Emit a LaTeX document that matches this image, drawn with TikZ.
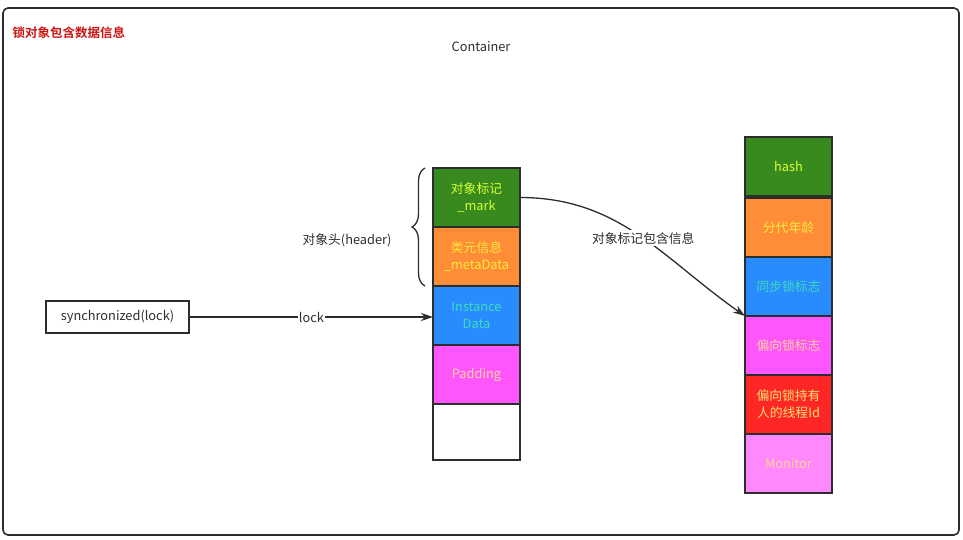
\documentclass[tikz,border=0pt]{standalone}
\usepackage{fontspec}
\setmainfont{Noto Sans CJK SC}[BoldFont={Noto Sans CJK SC Bold}]
\usepackage{tikz}
\usetikzlibrary{arrows.meta,shapes,positioning,decorations.pathreplacing}
\usepackage{xcolor}
\definecolor{framegray}{RGB}{45,45,45}
\definecolor{titlered}{RGB}{204,20,20}
\definecolor{cgreen}{RGB}{56,137,30}
\definecolor{corange}{RGB}{255,140,55}
\definecolor{cblue}{RGB}{40,140,255}
\definecolor{cmagenta}{RGB}{255,85,255}
\definecolor{cred}{RGB}{255,38,38}
\definecolor{cpink}{RGB}{255,136,255}
\definecolor{tlime}{RGB}{215,255,50}
\definecolor{tyellow}{RGB}{255,235,60}
\definecolor{tteal}{RGB}{60,220,190}
\definecolor{tpeach}{RGB}{255,212,150}
\definecolor{tgold}{RGB}{255,225,110}
\tikzstyle{cell} = [draw=framegray, line width=1.6pt, minimum width=87pt, minimum height=59pt, inner sep=0pt, outer sep=0pt, align=center, font=\fontsize{12.8}{17}\selectfont]
\tikzstyle{lbl} = [font=\fontsize{12.8}{16}\selectfont, text=framegray]
\tikzstyle{arrow} = [line width=1.3pt,-{Stealth[length=12pt,width=8pt]},color=framegray]

\begin{document}
\begin{tikzpicture}[x=1pt, y=-1pt]
\useasboundingbox (0,0) rectangle (963,539);
% Container
\draw[framegray, line width=1.6pt, rounded corners=5pt] (3,8) rectangle (959,535);
\node[anchor=west, text=titlered, font=\fontsize{12.5}{16}\selectfont\bfseries] (title) at (9,33) {锁对象包含数据信息};
\node[lbl] (container) at (481,47) {Container};

% Object layout
\node[cell, fill=cgreen, text=tlime] (mark) at (476.5,197.5) {对象标记\\\_mark};
\node[cell, fill=corange, text=tyellow, below=0pt of mark] (meta) {类元信息\\\_metaData};
\node[cell, fill=cblue, text=tteal, below=0pt of meta] (inst) {Instance\\Data};
\node[cell, fill=cmagenta, text=tpeach, below=0pt of inst] (pad) {Padding};
\node[cell, fill=white, minimum height=56pt, below=0pt of pad] (rest) {};

% Header brace
\draw[framegray, line width=1.3pt, decorate, decoration={brace, amplitude=13pt}]
  (425,286) -- (425,168);
\node[lbl] (header) at (347,240) {对象头(header)};

% Mark word
\node[cell, fill=cgreen, text=tlime] (hash) at (788.5,166.5) {hash};
\node[cell, fill=corange, text=tyellow, below=2pt of hash] (age) {分代年龄};
\node[cell, fill=cblue, text=tteal, below=0pt of age] (synflag) {同步锁标志};
\node[cell, fill=cmagenta, text=tpeach, below=0pt of synflag] (biasflag) {偏向锁标志};
\node[cell, fill=cred, text=tgold, below=0pt of biasflag] (owner) {偏向锁持有\\人的线程Id};
\node[cell, fill=cpink, text=tpeach, below=0pt of owner] (monitor) {Monitor};

% Lock
\node[draw=framegray, line width=1.6pt, minimum width=143pt, minimum height=32pt, lbl] (sync) at (117.5,317) {synchronized(lock)};
\draw[arrow] (sync.east) -- node[lbl, fill=white, inner sep=1pt] (lock) {lock} (sync.east -| inst.west);

% Mark contents
\draw[arrow] (mark.east) to[out=0, in=145] node[lbl, fill=white, inner sep=2pt, pos=0.52] (info) {对象标记包含信息} (biasflag.north west);
\end{tikzpicture}
\end{document}
